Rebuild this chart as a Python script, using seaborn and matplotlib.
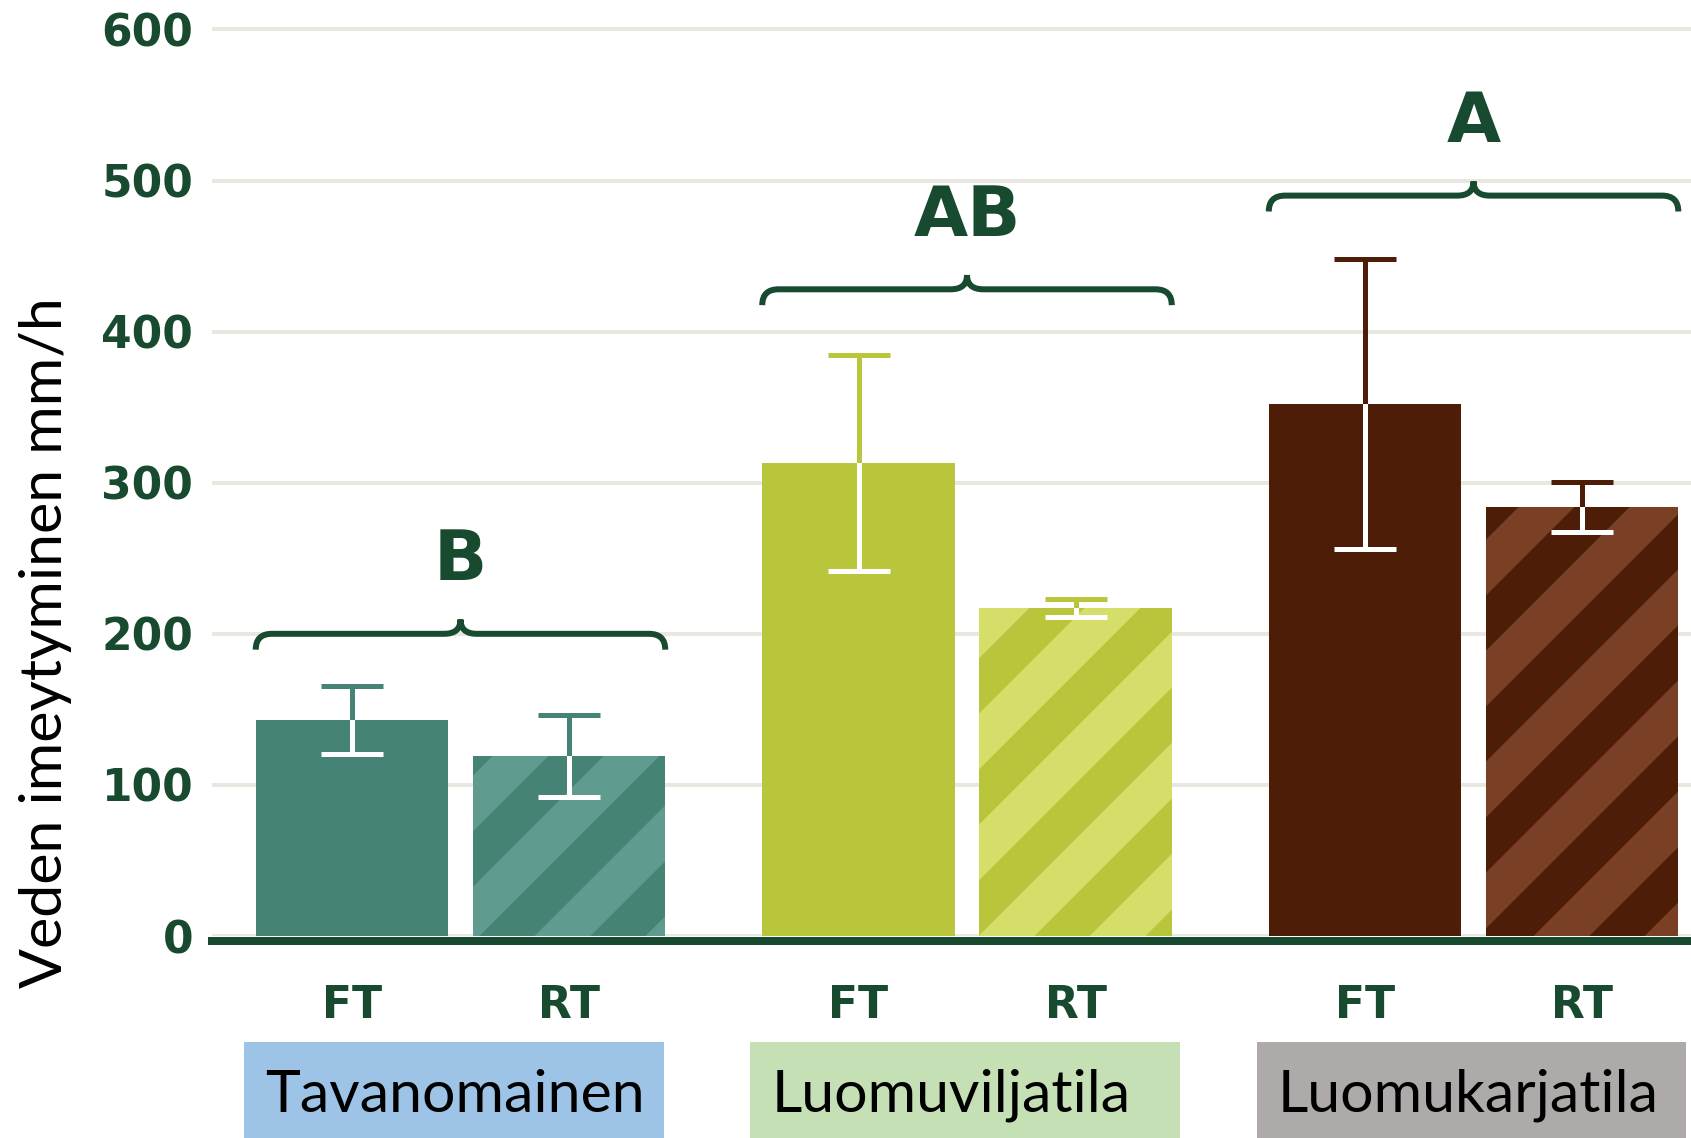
import pandas as pd
import matplotlib.pyplot as plt
import matplotlib.patches as mpatches
from matplotlib.path import Path
from matplotlib.transforms import blended_transform_factory
import seaborn as sns

# ==============================
# Data
# ==============================
groups = ["Tavanomainen", "Luomuviljatila", "Luomukarjatila"]
tillage = ["FT", "RT"]
means = [143, 119, 313, 217, 352, 284]
errors = [22.5, 27, 71.5, 6, 96, 16.5]
letters = ["B", "AB", "A"]
brace_levels = [200, 428, 490]
y_ticks = [0, 100, 200, 300, 400, 500, 600]
y_label = "Veden imeytyminen mm/h"

# colours
bar_colors = ["#458375", "#609b8f", "#b9c53b", "#d4de69", "#4d1d08", "#7a4025"]
group_colors = ["#458375", "#b9c53b", "#4d1d08"]
box_colors = ["#9dc3e6", "#c5e0b4", "#aeaaaa"]
dark_green = "#174a2e"
grid_color = "#e8e8e0"

DPI = 333
W, H = 1691, 1138


def pt(px):
    # pixel size in the output -> points
    return px * 72 / DPI


sns.set_style("white")
plt.rcParams["font.family"] = ["DejaVu Sans"]
plt.rcParams["hatch.linewidth"] = pt(39)

group_step = 2.334
positions = [g * group_step + t for g in range(len(groups)) for t in range(len(tillage))]
labels = [f"{g} {t}" for g in groups for t in tillage]
df = pd.DataFrame({"pos": positions, "value": means, "bar": labels})

fig = plt.figure(figsize=(W / DPI, H / DPI), dpi=DPI)
# axes: left edge 212 px, zero line 936 px from top, 1.511 px per unit
ax = fig.add_axes([212 / W, (H - 936) / H, (W - 212) / W, 921.7 / H])

sns.barplot(data=df, x="pos", y="value", hue="bar", hue_order=labels,
            palette=dict(zip(labels, bar_colors)), native_scale=True,
            width=0.887, dodge=False, legend=False, errorbar=None,
            saturation=1, linewidth=0, zorder=2, ax=ax)

bars = sorted(ax.patches, key=lambda p: p.get_x())

# striped RT bars
for i, bar in enumerate(bars):
    bar.set_linewidth(0)
    if i % 2 == 1:
        bar.set_hatch("/")
        bar.set_edgecolor(group_colors[i // 2])
    else:
        bar.set_edgecolor(bar_colors[i])

# error bars: group colour outside the bar, white inside it
for i, bar in enumerate(bars):
    kw = dict(fmt="none", elinewidth=pt(5), capsize=pt(31), capthick=pt(5))
    ax.errorbar(positions[i], means[i], yerr=errors[i],
                ecolor=group_colors[i // 2], zorder=1.5, **kw)
    eb = ax.errorbar(positions[i], means[i], yerr=errors[i],
                     ecolor="white", zorder=3, **kw)
    for art in list(eb.lines[1]) + list(eb.lines[2]):
        art.set_clip_path(bar)

# braces and significance letters
rx, ry = 0.075, 10.5
for g in range(len(groups)):
    x0 = bars[2 * g].get_x()
    x1 = bars[2 * g + 1].get_x() + bars[2 * g + 1].get_width()
    xc = (x0 + x1) / 2
    y = brace_levels[g]
    verts = [(x0, y - ry), (x0, y), (x0 + rx, y),
             (xc - rx, y), (xc, y), (xc, y + ry * 0.9),
             (xc, y), (xc + rx, y),
             (x1 - rx, y), (x1, y), (x1, y - ry)]
    codes = [Path.MOVETO, Path.CURVE3, Path.CURVE3,
             Path.LINETO, Path.CURVE3, Path.CURVE3,
             Path.CURVE3, Path.CURVE3,
             Path.LINETO, Path.CURVE3, Path.CURVE3]
    ax.add_patch(mpatches.PathPatch(Path(verts, codes), fill=False,
                                    edgecolor=dark_green, lw=pt(6),
                                    capstyle="butt", zorder=3, clip_on=False))
    ax.text(xc, y + 35.5, letters[g], ha="center", va="baseline",
            fontsize=pt(70), fontweight="bold", color=dark_green)

# group name boxes under the axis
box_right_pad = [-0.005, 0.04, 0.035]
trans = blended_transform_factory(ax.transData, fig.transFigure)
for g in range(len(groups)):
    x0 = bars[2 * g].get_x() - 0.055
    x1 = bars[2 * g + 1].get_x() + bars[2 * g + 1].get_width() + box_right_pad[g]
    ax.add_patch(mpatches.Rectangle((x0, 0), x1 - x0, 96 / H,
                                    transform=trans, facecolor=box_colors[g],
                                    edgecolor="none", clip_on=False))
    ax.text(x0 + 0.097, 26 / H, groups[g], transform=trans,
            ha="left", va="baseline", fontsize=pt(59), family="Lato",
            color="black")

# axes styling
ax.set_xlim(-0.645, 6.170)
ax.set_ylim(0, 610)
ax.set_yticks(y_ticks)
ax.set_xticks(positions, labels=tillage * len(groups))
ax.set_xlabel("")
ax.set_ylabel(y_label, fontsize=pt(59), family="Lato", color="black")
ax.yaxis.set_label_coords(-0.0947, 0.3188)
ax.yaxis.grid(True, color=grid_color, lw=pt(4))
ax.xaxis.grid(False)
ax.set_axisbelow(True)
for side in ["left", "right", "top"]:
    ax.spines[side].set_visible(False)
ax.spines["bottom"].set_color(dark_green)
ax.spines["bottom"].set_linewidth(pt(8))
ax.spines["bottom"].set_position(("outward", pt(4.5)))
ax.spines["bottom"].set_zorder(4)
ax.tick_params(axis="y", length=0, pad=pt(19), labelsize=pt(44),
               labelcolor=dark_green)
ax.tick_params(axis="x", length=pt(12), width=pt(4), color=dark_green,
               pad=pt(31), labelsize=pt(44), labelcolor=dark_green)
for lab in ax.get_xticklabels() + ax.get_yticklabels():
    lab.set_fontweight("bold")

fig.savefig("out.png", dpi=DPI)
